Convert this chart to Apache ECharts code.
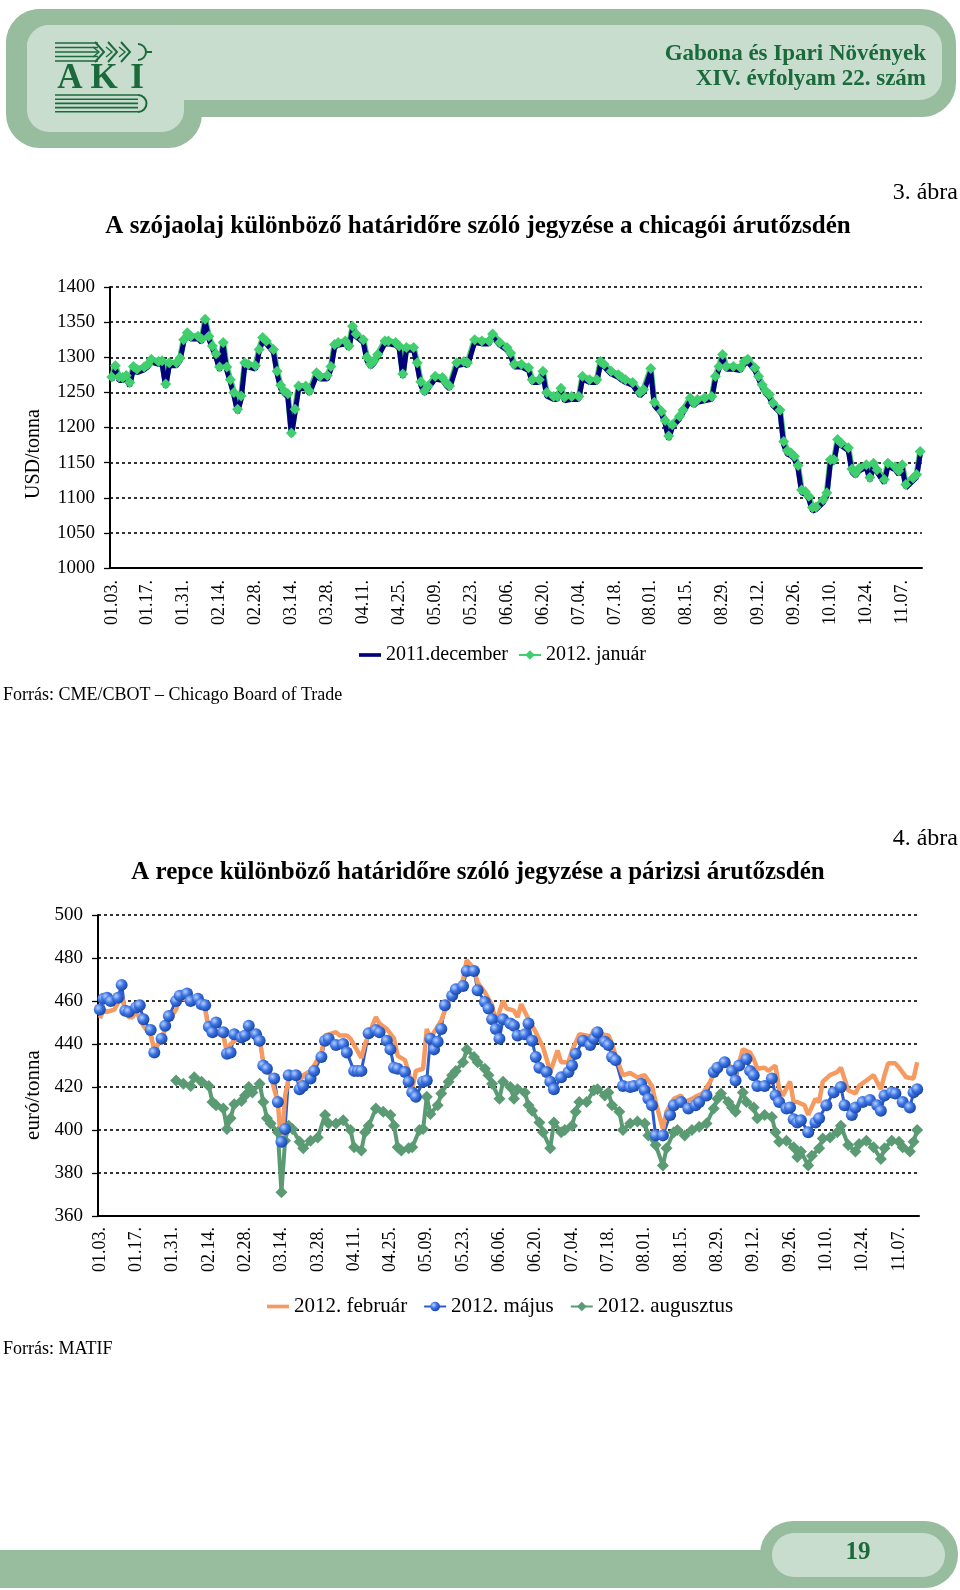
<!DOCTYPE html>
<html><head><meta charset="utf-8">
<script src="https://cdn.jsdelivr.net/npm/echarts@6/dist/echarts.min.js"></script>
<style>html,body{margin:0;padding:0;background:#fff}#c{width:960px;height:1590px}</style>
</head><body><div id="c"></div>
<script>
// ---------- DATA ----------
const tickLabels = ['01.03.','01.17.','01.31.','02.14.','02.28.','03.14.','03.28.','04.11.','04.25.','05.09.','05.23.','06.06.','06.20.','07.04.','07.18.','08.01.','08.15.','08.29.','09.12.','09.26.','10.10.','10.24.','11.07.'];
const tradingDays = 226;

// Chart 1: soybean oil, CBOT (USD/t), trading-day index + value
const soyDays = [0,1,2,3,4,5,6,7,9,10,11,13,14,15,16,18,19,20,21,22,24,25,26,27,28,29,30,31,32,33,34,35,36,37,38,40,41,42,43,45,46,47,48,49,50,51,52,54,55,57,58,60,61,62,63,65,66,67,68,70,71,72,73,74,76,77,79,80,81,82,84,85,86,87,88,90,92,93,94,96,98,99,101,103,105,106,108,110,111,112,114,116,117,119,120,121,123,124,125,126,128,130,131,133,135,136,137,139,141,142,143,145,147,148,150,151,153,154,155,156,158,159,161,162,163,165,167,168,169,170,171,173,175,176,177,179,180,181,182,183,184,186,187,188,189,190,191,192,193,194,195,196,198,199,200,201,202,203,205,206,207,208,210,211,212,213,215,216,218,219,220,221,223,224,225];
const soyDec = [1267,1283,1267,1267,1269,1259,1283,1278,1282,1286,1293,1290,1290,1257,1288,1288,1295,1321,1331,1326,1326,1321,1350,1326,1312,1300,1281,1317,1281,1264,1245,1221,1240,1288,1286,1283,1307,1324,1319,1307,1276,1255,1248,1243,1188,1221,1255,1255,1248,1274,1269,1269,1283,1314,1317,1319,1312,1340,1329,1321,1295,1286,1291,1300,1319,1319,1317,1312,1271,1310,1310,1288,1260,1248,1255,1269,1267,1260,1255,1288,1290,1288,1321,1319,1319,1329,1317,1310,1302,1286,1286,1281,1264,1264,1276,1245,1240,1240,1252,1238,1240,1240,1269,1264,1264,1290,1286,1276,1271,1267,1264,1260,1245,1250,1280,1231,1219,1205,1183,1200,1212,1221,1238,1231,1236,1238,1240,1269,1283,1300,1283,1283,1281,1290,1293,1281,1269,1257,1248,1243,1231,1221,1175,1162,1160,1155,1141,1107,1105,1098,1081,1083,1093,1102,1150,1150,1179,1174,1167,1136,1131,1138,1143,1124,1145,1136,1121,1145,1140,1133,1143,1114,1124,1129,1162];
const soyJan = [1272,1288,1272,1271,1274,1264,1287,1283,1286,1290,1297,1294,1295,1262,1292,1292,1299,1325,1335,1330,1330,1326,1354,1330,1316,1305,1286,1321,1286,1268,1250,1226,1245,1292,1290,1288,1311,1328,1323,1311,1280,1260,1252,1248,1192,1226,1259,1259,1252,1278,1273,1274,1287,1318,1321,1323,1316,1344,1333,1325,1300,1290,1295,1304,1323,1323,1321,1316,1276,1314,1314,1292,1265,1252,1259,1273,1271,1264,1259,1292,1294,1292,1325,1323,1323,1333,1321,1314,1306,1290,1290,1285,1268,1268,1280,1250,1244,1244,1256,1243,1244,1244,1273,1268,1268,1294,1290,1280,1275,1271,1268,1264,1250,1254,1284,1236,1223,1210,1188,1204,1216,1225,1242,1235,1240,1242,1244,1273,1287,1304,1287,1287,1285,1294,1297,1285,1273,1261,1252,1247,1235,1225,1180,1167,1164,1159,1146,1111,1109,1102,1086,1087,1097,1107,1154,1154,1183,1178,1171,1141,1135,1142,1147,1129,1149,1140,1126,1149,1144,1138,1147,1119,1128,1133,1166];

// Chart 2: rapeseed, MATIF (EUR/t), [trading-day index, value]
const repFeb = [[0,452],[1,455.5],[2,455],[4,456],[6,462.5],[7,455],[8,452.5],[9,452.5],[10,455.5],[11,451.5],[12,448.5],[14,444],[15,437.5],[17,442.5],[18,447],[19,451],[21,456],[22,461],[23,461],[25,460],[26,459.5],[28,458.5],[29,456],[30,447],[31,444.5],[33,444.5],[34,444],[35,436],[36,440],[38,442.5],[39,441.5],[40,442.5],[42,445.5],[43,441.5],[44,442.5],[45,431.5],[47,425.5],[48,419],[49,413],[50,392],[51,416],[52,424],[54,426],[55,422.5],[56,425.5],[58,427.5],[59,430],[61,436],[62,444],[63,444.5],[65,445.5],[66,444],[68,444],[69,442.5],[70,439.5],[72,433.5],[73,440],[76,452.5],[77,449.5],[79,447],[81,442.5],[82,434.5],[84,432.5],[85,427],[86,419],[87,427.5],[89,428.5],[90,447],[91,442.5],[92,445.5],[94,451],[96,460],[97,464],[99,467],[100,470],[101,479],[103,475],[104,468.5],[106,464],[108,458],[109,450],[111,460],[112,456.5],[114,455.5],[115,452.5],[116,458.5],[118,451.5],[119,448.5],[120,445.5],[122,438.5],[123,433],[124,427],[126,437],[127,431.5],[129,431.5],[130,437],[132,444.5],[134,444],[135,443],[136,446.5],[138,444.5],[140,444],[141,440],[142,434.5],[144,425.5],[146,426.5],[148,424.5],[150,425.5],[152,420.5],[153,413],[155,400.5],[156,408.5],[158,414.5],[160,416],[161,413],[163,414.5],[164,415.5],[166,417],[168,422.5],[170,430],[172,433],[174,428.5],[175,425.5],[177,437.5],[179,436],[180,433],[181,428.5],[183,429],[184,427.5],[186,430],[187,419],[188,416],[190,422.5],[191,413],[192,413],[194,411.5],[195,407],[197,414.5],[198,413],[199,422.5],[201,425.5],[203,427],[204,429],[206,418.5],[208,417],[209,420.5],[211,423],[213,425.5],[215,419],[216,425.5],[217,431],[219,431],[220,429],[222,424.5],[224,424],[225,431.5]];
const repMaj = [[0,456],[1,461],[2,461.5],[3,460],[5,461.5],[6,467.5],[7,455.5],[8,455],[10,457],[11,458],[12,451.5],[14,446.5],[15,436],[17,442.5],[18,448.5],[19,453],[21,460],[22,462.5],[24,463.5],[25,460],[27,461],[28,458.5],[29,458],[30,448],[31,445.5],[32,450],[34,445.5],[35,435.5],[36,436],[37,444.5],[39,443],[40,444],[41,448.5],[43,444.5],[44,441.5],[45,430],[46,428.5],[48,424],[49,413],[50,394.5],[51,400.5],[52,425.5],[54,425.5],[55,419],[56,420.5],[58,424],[59,427.5],[61,434],[62,441.5],[63,442.5],[65,439.5],[67,440],[68,436],[70,427.5],[71,427.5],[72,427.5],[74,445],[76,446.5],[77,445.5],[79,441.5],[80,437.5],[81,429],[82,428.5],[84,427],[85,422.5],[86,417.5],[87,415.5],[89,422.5],[90,423],[91,442.5],[92,437.5],[93,441],[94,447],[95,458],[97,462.5],[98,465.5],[100,467],[101,474],[103,474],[104,465],[106,459.5],[107,456.5],[108,451.5],[109,447],[110,442.5],[111,451.5],[113,449.5],[114,448.5],[115,444],[117,444.5],[118,449.5],[119,441.5],[120,434],[121,429],[123,427],[124,422.5],[125,419],[127,424.5],[129,427],[130,430],[131,435.5],[133,441.5],[135,439.5],[136,442.5],[137,445.5],[139,441],[140,439.5],[141,434],[142,432.5],[144,420.5],[146,420],[147,420.5],[149,421.5],[150,418.5],[151,414.5],[152,411.5],[153,397.5],[155,397.5],[157,407],[158,411.5],[160,413],[162,410],[164,411.5],[165,413],[167,416],[169,427],[170,429],[172,431.5],[174,427.5],[175,423],[176,430],[178,433],[179,427.5],[180,425.5],[181,420.5],[183,420.5],[185,424],[186,416],[187,413],[189,410],[190,410.5],[191,405],[192,403.5],[193,404.5],[195,399],[197,403.5],[198,405.5],[200,411.5],[202,417.5],[204,420],[205,411.5],[207,407],[208,410.5],[210,413],[212,414],[214,411.5],[215,409],[216,416],[218,417.5],[219,417],[221,413],[223,410.5],[224,417.5],[225,419]];
const repAug = [[21,423],[23,421.5],[25,420.5],[26,424.5],[28,422.5],[30,420.5],[31,413],[32,411.5],[34,410],[35,400.5],[36,405.5],[37,412],[39,413.5],[40,416],[41,420],[42,417.5],[44,421.5],[45,413],[46,405.5],[47,403],[49,399],[50,371],[51,395],[52,402],[53,400.5],[55,394.5],[56,391.5],[58,395],[60,396.5],[62,407],[63,403],[65,403],[67,404.5],[69,400],[70,392],[72,390.5],[73,399],[74,402],[76,410],[78,408.5],[80,407],[81,402],[82,392],[83,390.5],[85,391.5],[86,392],[88,400],[89,400.5],[90,415.5],[91,407.5],[93,411.5],[94,417],[96,422.5],[97,425.5],[98,427.5],[100,431.5],[101,437.5],[103,434],[104,431.5],[106,428.5],[107,425.5],[108,421.5],[110,414.5],[111,422.5],[113,420],[114,414.5],[115,419],[117,417.5],[118,411.5],[119,409],[121,403.5],[122,399],[124,391.5],[125,403.5],[127,399],[128,400],[130,402],[131,408.5],[132,413],[134,413],[136,418.5],[137,419],[139,416],[140,417.5],[141,411.5],[143,408.5],[144,400],[146,403],[148,404],[150,403],[151,397.5],[153,393],[155,383.5],[156,391.5],[158,399],[159,400],[161,397.5],[163,400],[165,401.5],[167,403],[169,410],[170,414.5],[171,417],[173,413],[174,410.5],[175,408.5],[177,417.5],[178,413],[180,410.5],[181,405.5],[183,407],[185,406],[186,399],[187,394.5],[189,395],[191,392],[192,387.5],[193,390],[195,383.5],[196,388],[198,391.5],[199,396],[201,396.5],[203,399],[204,402],[206,393],[208,390],[209,393.5],[211,395],[213,392],[215,386.5],[216,391.5],[218,395],[220,394.5],[221,392],[223,390],[224,394.5],[225,400]];

// ---------- BUILD ----------
const cats = Array.from({length: tradingDays}, (_, i) => String(i));
const zip = (d, v) => d.map((x, i) => [x, v[i]]);
const FF = '"Liberation Serif", "Times New Roman", serif';
const GREEN_DARK = '#1a6a3c', BAND = '#97bc9e', BAND_IN = '#c9ddcf';
const LINE_ICON = 'path://M0,0L24,0L24,4L0,4Z';

function xAxisCfg(gi, margin) {
  return {
    gridIndex: gi, type: 'category', data: cats, boundaryGap: true,
    axisLine: {lineStyle: {color: '#000', width: 2}},
    axisTick: {interval: 4, length: 7, lineStyle: {color: '#000', width: 1.3}},
    axisLabel: {interval: 9, rotate: 90, margin: margin, color: '#000', fontFamily: FF, fontSize: 18,
      formatter: (v, i) => (i % 10 === 0 && tickLabels[i / 10]) ? tickLabels[i / 10] : ''},
    splitLine: {show: false}
  };
}
function yAxisCfg(gi, min, max, step) {
  return {
    gridIndex: gi, type: 'value', min: min, max: max, interval: step,
    axisLine: {show: true, lineStyle: {color: '#000', width: 2}},
    axisTick: {show: true, length: 6, lineStyle: {color: '#000', width: 1.3}},
    axisLabel: {margin: 15, color: '#000', fontFamily: FF, fontSize: 19, formatter: v => String(v)},
    splitLine: {show: true, lineStyle: {color: '#000', width: 1.6, type: [3, 3]}}
  };
}
function txt(x, y, text, size, opts) {
  opts = opts || {};
  return {type: 'text', x: x, y: y, rotation: opts.rot || 0, z: 100,
    style: {text: text, fill: opts.fill || '#000', fontFamily: FF, fontSize: size,
      fontWeight: opts.bold ? 'bold' : 'normal', align: opts.align || 'left', verticalAlign: 'middle'}};
}

const graphics = [
  // header band
  {type: 'rect', shape: {x: 6, y: 9, width: 950, height: 108, r: 34}, style: {fill: BAND}},
  {type: 'rect', shape: {x: 6, y: 9, width: 196, height: 139, r: 34}, style: {fill: BAND}},
  {type: 'rect', shape: {x: 27, y: 25, width: 915, height: 75, r: 22}, style: {fill: BAND_IN}},
  {type: 'rect', shape: {x: 27, y: 25, width: 157, height: 107, r: 22}, style: {fill: BAND_IN}},
  txt(926, 54, 'Gabona és Ipari Növények', 23, {bold: true, fill: GREEN_DARK, align: 'right'}),
  txt(926, 79, 'XIV. évfolyam 22. szám', 23, {bold: true, fill: GREEN_DARK, align: 'right'}),
  // footer band
  {type: 'rect', shape: {x: 0, y: 1550, width: 820, height: 38}, style: {fill: BAND}},
  {type: 'rect', shape: {x: 760, y: 1521, width: 198, height: 67, r: 33}, style: {fill: BAND}},
  {type: 'rect', shape: {x: 772, y: 1533, width: 173, height: 44, r: 22}, style: {fill: BAND_IN}},
  txt(858, 1553, '19', 25, {bold: true, fill: GREEN_DARK, align: 'center'}),
  // titles & notes
  txt(958, 193, '3. ábra', 24, {align: 'right'}),
  txt(478, 227, 'A szójaolaj különböző határidőre szóló jegyzése a chicagói árutőzsdén', 25, {bold: true, align: 'center'}),
  txt(34, 454, 'USD/tonna', 20, {rot: Math.PI / 2, align: 'center'}),
  txt(3, 695, 'Forrás: CME/CBOT – Chicago Board of Trade', 18),
  txt(958, 839, '4. ábra', 24, {align: 'right'}),
  txt(478, 873, 'A repce különböző határidőre szóló jegyzése a párizsi árutőzsdén', 25, {bold: true, align: 'center'}),
  txt(33, 1095, 'euró/tonna', 21, {rot: Math.PI / 2, align: 'center'}),
  txt(3, 1349, 'Forrás: MATIF', 18)
];
// AKI logo
const logo = [];
for (let k = 0; k < 5; k++) logo.push({type: 'line', shape: {x1: 55, y1: 43 + k * 4.5, x2: 98, y2: 43 + k * 4.5}, style: {stroke: GREEN_DARK, lineWidth: 1.6}});
[104, 117, 130].forEach(cx => logo.push({type: 'polyline', shape: {points: [[cx - 9, 42], [cx, 52], [cx - 9, 62]]}, style: {stroke: GREEN_DARK, lineWidth: 2, fill: null}}));
[98, 111, 124].forEach(cx => logo.push({type: 'polyline', shape: {points: [[cx - 5, 47], [cx + 1, 52], [cx - 5, 57]]}, style: {stroke: GREEN_DARK, lineWidth: 1.4, fill: null}}));
logo.push({type: 'arc', shape: {cx: 138, cy: 52, r: 8, startAngle: -Math.PI / 2, endAngle: Math.PI / 2}, style: {stroke: GREEN_DARK, lineWidth: 2, fill: null}});
logo.push({type: 'line', shape: {x1: 146, y1: 52, x2: 152, y2: 52}, style: {stroke: GREEN_DARK, lineWidth: 2}});
logo.push(txt(70, 79, 'A', 35, {bold: true, fill: GREEN_DARK, align: 'center'}));
logo.push(txt(104, 79, 'K', 35, {bold: true, fill: GREEN_DARK, align: 'center'}));
logo.push(txt(137, 79, 'I', 35, {bold: true, fill: GREEN_DARK, align: 'center'}));
for (let k = 0; k < 5; k++) logo.push({type: 'line', shape: {x1: 55, y1: 95 + k * 4.2, x2: 138, y2: 95 + k * 4.2}, style: {stroke: GREEN_DARK, lineWidth: 1.6}});
logo.push({type: 'arc', shape: {cx: 138, cy: 103.5, r: 8.5, startAngle: -Math.PI / 2, endAngle: Math.PI / 2}, style: {stroke: GREEN_DARK, lineWidth: 2, fill: null}});
graphics.push(...logo);

const mayBall = {type: 'radial', x: 0.35, y: 0.35, r: 0.75,
  colorStops: [{offset: 0, color: '#b5d0ff'}, {offset: 0.45, color: '#3b73e2'}, {offset: 1, color: '#123c98'}]};

const option = {
  animation: false,
  backgroundColor: '#fff',
  grid: [
    {left: 110, top: 287, width: 812, height: 281},
    {left: 98, top: 915, width: 821, height: 301}
  ],
  xAxis: [xAxisCfg(0, 12), xAxisCfg(1, 11)],
  yAxis: [yAxisCfg(0, 1000, 1400, 50), yAxisCfg(1, 360, 500, 20)],
  legend: [
    {data: [{name: '2011.december', icon: LINE_ICON}, '2012. január'], left: 354, top: 640, itemWidth: 22, itemHeight: 12, itemGap: 10,
      textStyle: {fontFamily: FF, fontSize: 20, color: '#000'}},
    {data: [{name: '2012. február', icon: LINE_ICON}, '2012. május', '2012. augusztus'], left: 262, top: 1291, itemWidth: 22, itemHeight: 12, itemGap: 16,
      textStyle: {fontFamily: FF, fontSize: 21, color: '#000'}}
  ],
  graphic: {elements: graphics},
  series: [
    {name: '2012. január', type: 'line', xAxisIndex: 0, yAxisIndex: 0, data: zip(soyDays, soyJan),
      symbol: 'diamond', symbolSize: 11, showSymbol: true, showAllSymbol: true, itemStyle: {color: '#3fcf6e'},
      lineStyle: {color: '#3fcf6e', width: 6}},
    {name: '2011.december', type: 'line', xAxisIndex: 0, yAxisIndex: 0, data: zip(soyDays, soyDec),
      symbol: 'none', itemStyle: {color: '#00007a'}, lineStyle: {color: '#00007a', width: 5}},
    {name: '2012. augusztus', type: 'line', xAxisIndex: 1, yAxisIndex: 1, data: repAug,
      symbol: 'diamond', symbolSize: 12, showAllSymbol: true, itemStyle: {color: '#5b9b73'}, lineStyle: {color: '#5b9b73', width: 4}},
    {name: '2012. május', type: 'line', xAxisIndex: 1, yAxisIndex: 1, data: repMaj,
      symbol: 'circle', symbolSize: 12, showAllSymbol: true, itemStyle: {color: mayBall}, lineStyle: {color: '#2a5bd0', width: 3}},
    {name: '2012. február', type: 'line', xAxisIndex: 1, yAxisIndex: 1, data: repFeb,
      symbol: 'none', itemStyle: {color: '#f79a61'}, lineStyle: {color: '#f79a61', width: 4.5}}
  ]
};
const chart = echarts.init(document.getElementById('c'), null, {renderer: 'canvas'});
chart.setOption(option);
</script>
</body></html>
